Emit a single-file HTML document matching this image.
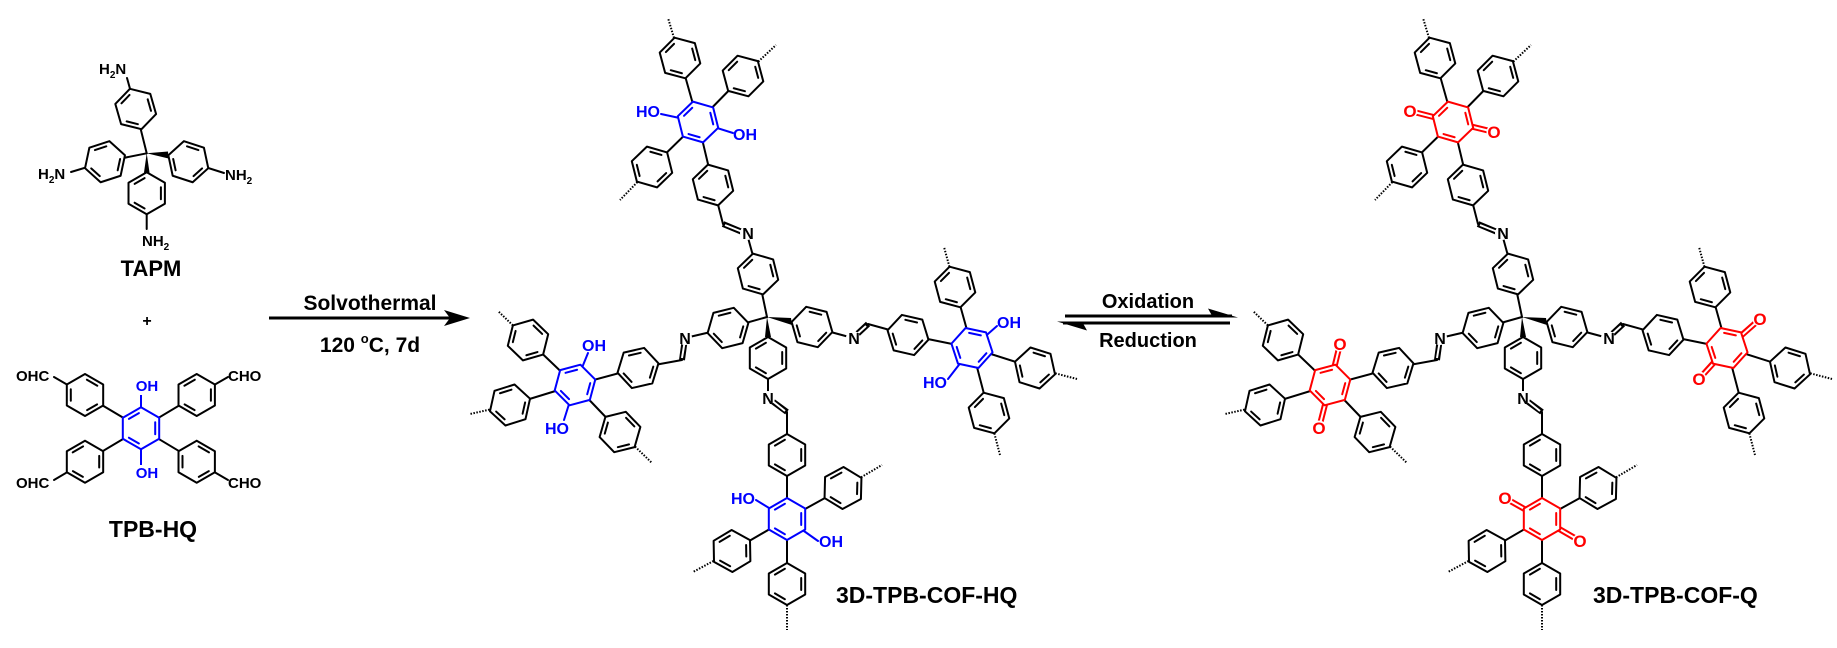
<!DOCTYPE html>
<html><head><meta charset="utf-8"><style>
html,body{margin:0;padding:0;background:#fff;}
svg{display:block;}
text{font-family:"Liberation Sans",Arial,sans-serif;font-weight:bold;}
</style></head><body>
<svg width="1837" height="648" viewBox="0 0 1837 648" xmlns="http://www.w3.org/2000/svg">
<defs>
<g id="hx" stroke-width="2" stroke-linejoin="round" stroke-linecap="round">
<polygon points="21,0 10.5,18.19 -10.5,18.19 -21,0 -10.5,-18.19 10.5,-18.19" fill="#fff"/>
<line x1="15.2" y1="2.1" x2="9.4" y2="12.1" fill="none"/>
<line x1="-9.4" y1="12.1" x2="-15.2" y2="2.1" fill="none"/>
<line x1="-6" y1="-14.2" x2="6" y2="-14.2" fill="none"/>
</g>
<g id="frame">
<g stroke="#000" stroke-width="2" fill="none" stroke-linecap="round">
<line x1="767" y1="317" x2="758" y2="274"/><line x1="767" y1="317" x2="728" y2="328"/>
<line x1="758" y1="274" x2="747" y2="234"/><line x1="728" y1="328" x2="685" y2="338"/>
<line x1="812" y1="327" x2="853" y2="338"/><line x1="768" y1="358" x2="768" y2="398"/>
<line x1="723" y1="224" x2="713" y2="185"/><line x1="713" y1="185" x2="698" y2="122"/>
<line x1="698" y1="122" x2="680" y2="58"/><line x1="698" y1="122" x2="743" y2="76"/><line x1="698" y1="122" x2="652" y2="167"/>
<line x1="682" y1="360" x2="638" y2="368"/><line x1="638" y1="368" x2="575" y2="385"/>
<line x1="575" y1="385" x2="528" y2="340"/><line x1="575" y1="385" x2="510" y2="405"/><line x1="575" y1="385" x2="620" y2="432"/>
<line x1="787" y1="412" x2="787" y2="455"/><line x1="787" y1="455" x2="787" y2="519"/>
<line x1="787" y1="519" x2="843" y2="488"/><line x1="787" y1="519" x2="732" y2="551"/><line x1="787" y1="519" x2="787" y2="584"/>
<line x1="868" y1="324" x2="908" y2="335"/><line x1="908" y1="335" x2="972" y2="348"/>
<line x1="972" y1="348" x2="955" y2="287"/><line x1="972" y1="348" x2="1035" y2="368"/><line x1="972" y1="348" x2="989" y2="413"/>
</g>
<g stroke="#000" stroke-width="2" stroke-dasharray="1.5 1.5" fill="none">
<line x1="680" y1="58" x2="668" y2="18"/><line x1="743" y1="76" x2="776" y2="45"/><line x1="652" y1="167" x2="620" y2="200"/>
<line x1="528" y1="340" x2="498" y2="311"/><line x1="510" y1="405" x2="470" y2="414"/><line x1="620" y1="432" x2="652" y2="463"/>
<line x1="843" y1="488" x2="882" y2="465"/><line x1="732" y1="551" x2="693" y2="572"/><line x1="787" y1="584" x2="787" y2="630"/>
<line x1="955" y1="287" x2="944" y2="247"/><line x1="1035" y1="368" x2="1077" y2="379"/><line x1="989" y1="413" x2="1000" y2="455"/>
</g>
<!-- imine double bonds -->
<g fill="none">
<line x1="747" y1="234" x2="723" y2="224" stroke="#000" stroke-width="6"/><line x1="745" y1="233" x2="725" y2="225" stroke="#fff" stroke-width="2"/>
<line x1="685" y1="338" x2="682" y2="360" stroke="#000" stroke-width="6"/><line x1="685" y1="340" x2="682" y2="358" stroke="#fff" stroke-width="2"/>
<line x1="853" y1="338" x2="868" y2="324" stroke="#000" stroke-width="6"/><line x1="855" y1="336" x2="866" y2="326" stroke="#fff" stroke-width="2"/>
<line x1="768" y1="398" x2="787" y2="412" stroke="#000" stroke-width="6"/><line x1="770" y1="399" x2="785" y2="411" stroke="#fff" stroke-width="2"/>
</g>
<g stroke="#000">
<use href="#hx" transform="translate(758,274) rotate(76)"/>
<use href="#hx" transform="translate(728,328) rotate(-14)"/>
<use href="#hx" transform="translate(812,327) rotate(14)"/>
<use href="#hx" transform="translate(768,358) rotate(90)"/>
<use href="#hx" transform="translate(713,185) rotate(76)"/>
<use href="#hx" transform="translate(680,58) rotate(75)"/>
<use href="#hx" transform="translate(743,76) rotate(-45)"/>
<use href="#hx" transform="translate(652,167) rotate(136)"/>
<use href="#hx" transform="translate(638,368) rotate(-13)"/>
<use href="#hx" transform="translate(528,340) rotate(44)"/>
<use href="#hx" transform="translate(510,405) rotate(-17.5)"/>
<use href="#hx" transform="translate(620,432) rotate(46)"/>
<use href="#hx" transform="translate(787,455) rotate(90)"/>
<use href="#hx" transform="translate(843,488) rotate(-28.6)"/>
<use href="#hx" transform="translate(732,551) rotate(-31)"/>
<use href="#hx" transform="translate(787,584) rotate(90)"/>
<use href="#hx" transform="translate(908,335) rotate(13)"/>
<use href="#hx" transform="translate(955,287) rotate(75)"/>
<use href="#hx" transform="translate(1035,368) rotate(17.5)"/>
<use href="#hx" transform="translate(989,413) rotate(75)"/>
</g>
<polygon points="767,317 765,337 771,337" fill="#000"/>
<polygon points="767,317 791,318 792,325" fill="#000"/>
<g fill="#fff"><circle cx="747" cy="233" r="7"/><circle cx="685" cy="338" r="7"/><circle cx="853" cy="338" r="7"/><circle cx="768" cy="398" r="7"/></g>
<g font-size="16" fill="#000" text-anchor="middle">
<text x="748" y="239">N</text><text x="685" y="344">N</text><text x="854" y="344">N</text><text x="768" y="404">N</text>
</g>
</g>
</defs>

<!-- ===== TAPM ===== -->
<g stroke="#000" stroke-width="2" fill="none" stroke-linecap="round">
<line x1="146.7" y1="153.3" x2="135.7" y2="109"/><line x1="146.7" y1="153.3" x2="105" y2="161.7"/>
<line x1="135.7" y1="109" x2="127" y2="78"/><line x1="105" y1="161.7" x2="71" y2="172"/>
<line x1="188.3" y1="161.7" x2="224" y2="173"/><line x1="146.7" y1="193.3" x2="146.7" y2="229"/>
</g>
<g stroke="#000">
<use href="#hx" transform="translate(135.7,109) rotate(74)"/>
<use href="#hx" transform="translate(105,161.7) rotate(-18)"/>
<use href="#hx" transform="translate(188.3,161.7) rotate(18)"/>
<use href="#hx" transform="translate(146.7,193.3) rotate(90)"/>
</g>
<polygon points="146.7,153.3 144,172.5 149.5,172.5" fill="#000"/>
<polygon points="146.7,153.3 168,151.5 168.5,158.5" fill="#000"/>
<g font-size="15" fill="#000">
<text x="99" y="74">H<tspan font-size="10" dy="4">2</tspan><tspan dy="-4">N</tspan></text>
<text x="38" y="179">H<tspan font-size="10" dy="4">2</tspan><tspan dy="-4">N</tspan></text>
<text x="225" y="180">NH<tspan font-size="10" dy="4">2</tspan></text>
<text x="142" y="246">NH<tspan font-size="10" dy="4">2</tspan></text>
</g>
<text x="151" y="276" font-size="22" text-anchor="middle">TAPM</text>
<text x="147" y="326" font-size="16" text-anchor="middle">+</text>

<!-- ===== TPB-HQ ===== -->
<g stroke="#000" stroke-width="2" fill="none" stroke-linecap="round">
<line x1="141" y1="428.3" x2="85" y2="395"/><line x1="141" y1="428.3" x2="196.7" y2="395"/>
<line x1="141" y1="428.3" x2="85" y2="461.7"/><line x1="141" y1="428.3" x2="196.7" y2="461.7"/>
<line x1="85" y1="395" x2="54" y2="377"/><line x1="196.7" y1="395" x2="228" y2="377"/>
<line x1="85" y1="461.7" x2="54" y2="480"/><line x1="196.7" y1="461.7" x2="228" y2="480"/>
</g>
<g stroke="#0000ff" stroke-width="2"><line x1="141" y1="428" x2="141" y2="395"/><line x1="141" y1="428" x2="141" y2="465"/></g>
<g stroke="#000">
<use href="#hx" transform="translate(85,395) rotate(30)"/>
<use href="#hx" transform="translate(196.7,395) rotate(-30)"/>
<use href="#hx" transform="translate(85,461.7) rotate(-30)"/>
<use href="#hx" transform="translate(196.7,461.7) rotate(30)"/>
</g>
<use href="#hx" stroke="#0000ff" transform="translate(141,428.3) rotate(90)"/>
<g font-size="15" fill="#0000ff" text-anchor="middle"><text x="147" y="391">OH</text><text x="147" y="478">OH</text></g>
<g font-size="15" fill="#000">
<text x="16" y="381">OHC</text><text x="228" y="381">CHO</text>
<text x="16" y="488">OHC</text><text x="228" y="488">CHO</text>
</g>
<text x="153" y="537" font-size="23" text-anchor="middle">TPB-HQ</text>

<!-- ===== Arrow 1 ===== -->
<line x1="269" y1="318" x2="452" y2="318" stroke="#000" stroke-width="3"/>
<polygon points="470,318 444,310 450,318 444,326" fill="#000"/>
<text x="370" y="310" font-size="21" text-anchor="middle">Solvothermal</text>
<text x="370" y="352" font-size="21" text-anchor="middle">120 <tspan font-size="13" dy="-9">o</tspan><tspan dy="9">C, 7d</tspan></text>

<!-- ===== Equilibrium arrows ===== -->
<line x1="1065" y1="316" x2="1232" y2="316" stroke="#000" stroke-width="3"/>
<polygon points="1238,317.5 1208,308.5 1213,317.5" fill="#000"/>
<line x1="1063" y1="323" x2="1230" y2="323" stroke="#000" stroke-width="3"/>
<polygon points="1057,321.5 1087,330.5 1082,321.5" fill="#000"/>
<text x="1148" y="308" font-size="20" text-anchor="middle">Oxidation</text>
<text x="1148" y="347" font-size="20" text-anchor="middle">Reduction</text>

<!-- ===== 3D-TPB-COF-HQ ===== -->
<use href="#frame"/>
<g stroke="#0000ff" stroke-width="2" stroke-linecap="round">
<line x1="698" y1="122" x2="661" y2="114"/><line x1="698" y1="122" x2="733" y2="133"/>
<line x1="575" y1="385" x2="588" y2="353"/><line x1="575" y1="385" x2="564" y2="420"/>
<line x1="787" y1="519" x2="756" y2="500"/><line x1="787" y1="519" x2="818" y2="541"/>
<line x1="972" y1="348" x2="997" y2="326"/><line x1="972" y1="348" x2="948" y2="379"/>
</g>
<g stroke="#0000ff">
<use href="#hx" transform="translate(698,122) rotate(76)"/>
<use href="#hx" transform="translate(575,385) rotate(-15)"/>
<use href="#hx" transform="translate(787,519) rotate(90)"/>
<use href="#hx" transform="translate(972,348) rotate(12)"/>
</g>
<g font-size="16" fill="#0000ff">
<text x="660" y="117" text-anchor="end">HO</text><text x="733" y="140">OH</text>
<text x="582" y="351">OH</text><text x="569" y="434" text-anchor="end">HO</text>
<text x="755" y="504" text-anchor="end">HO</text><text x="819" y="547">OH</text>
<text x="997" y="328">OH</text><text x="947" y="388" text-anchor="end">HO</text>
</g>
<text x="836" y="603" font-size="23">3D-TPB-COF-HQ</text>

<!-- ===== 3D-TPB-COF-Q ===== -->
<g transform="translate(755,0)">
<use href="#frame"/>
<g fill="none">
<line x1="698" y1="122" x2="655" y2="111" stroke="#ff0000" stroke-width="6"/><line x1="690" y1="120" x2="655" y2="111" stroke="#fff" stroke-width="2"/>
<line x1="698" y1="122" x2="739" y2="132" stroke="#ff0000" stroke-width="6"/><line x1="706" y1="124" x2="739" y2="132" stroke="#fff" stroke-width="2"/>
<line x1="575" y1="385" x2="585" y2="344" stroke="#ff0000" stroke-width="6"/><line x1="577" y1="377" x2="585" y2="344" stroke="#fff" stroke-width="2"/>
<line x1="575" y1="385" x2="564" y2="428" stroke="#ff0000" stroke-width="6"/><line x1="573" y1="393" x2="564" y2="428" stroke="#fff" stroke-width="2"/>
<line x1="787" y1="519" x2="750" y2="498" stroke="#ff0000" stroke-width="6"/><line x1="780" y1="515" x2="750" y2="498" stroke="#fff" stroke-width="2"/>
<line x1="787" y1="519" x2="825" y2="541" stroke="#ff0000" stroke-width="6"/><line x1="794" y1="523" x2="825" y2="541" stroke="#fff" stroke-width="2"/>
<line x1="972" y1="348" x2="1005" y2="319" stroke="#ff0000" stroke-width="6"/><line x1="978" y1="343" x2="1005" y2="319" stroke="#fff" stroke-width="2"/>
<line x1="972" y1="348" x2="944" y2="379" stroke="#ff0000" stroke-width="6"/><line x1="966" y1="355" x2="944" y2="379" stroke="#fff" stroke-width="2"/>
</g>
<g stroke="#ff0000">
<use href="#hx" transform="translate(698,122) rotate(76)"/>
<use href="#hx" transform="translate(575,385) rotate(-15)"/>
<use href="#hx" transform="translate(787,519) rotate(90)"/>
<use href="#hx" transform="translate(972,348) rotate(12)"/>
</g>
<g fill="#fff">
<circle cx="655" cy="111" r="7.5"/><circle cx="739" cy="132" r="7.5"/>
<circle cx="585" cy="344" r="7.5"/><circle cx="564" cy="428" r="7.5"/>
<circle cx="750" cy="498" r="7.5"/><circle cx="825" cy="541" r="7.5"/>
<circle cx="1005" cy="319" r="7.5"/><circle cx="944" cy="379" r="7.5"/>
</g>
<g font-size="17" fill="#ff0000" text-anchor="middle">
<text x="655" y="117">O</text><text x="739" y="138">O</text>
<text x="585" y="350">O</text><text x="564" y="434">O</text>
<text x="750" y="504">O</text><text x="825" y="547">O</text>
<text x="1005" y="325">O</text><text x="944" y="385">O</text>
</g>
</g>
<text x="1593" y="603" font-size="23">3D-TPB-COF-Q</text>
</svg>
</body></html>
